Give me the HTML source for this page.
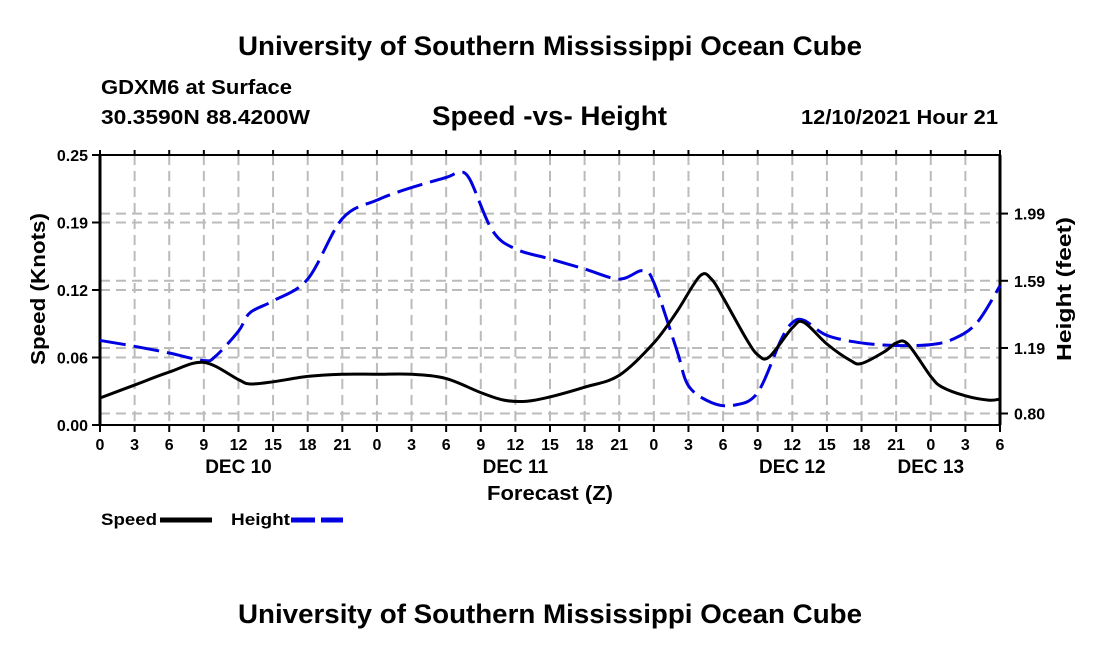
<!DOCTYPE html>
<html><head><meta charset="utf-8"><style>
body{margin:0;background:#fff;width:1100px;height:650px;overflow:hidden;font-family:"Liberation Sans",sans-serif}
svg text{font-family:"Liberation Sans",sans-serif;font-weight:bold}
</style></head><body>
<svg id="c" width="1100" height="650">
<text x="238" y="55" font-size="27" textLength="624" lengthAdjust="spacingAndGlyphs">University of Southern Mississippi Ocean Cube</text>
<text x="101" y="94" font-size="20" textLength="191" lengthAdjust="spacingAndGlyphs">GDXM6 at Surface</text>
<text x="101" y="124" font-size="20" textLength="209" lengthAdjust="spacingAndGlyphs">30.3590N  88.4200W</text>
<text x="432" y="125" font-size="27" textLength="235" lengthAdjust="spacingAndGlyphs">Speed -vs- Height</text>
<text x="801" y="124" font-size="20" textLength="197" lengthAdjust="spacingAndGlyphs">12/10/2021 Hour 21</text>
<text x="238" y="623" font-size="27" textLength="624" lengthAdjust="spacingAndGlyphs">University of Southern Mississippi Ocean Cube</text>
<g id="grid"></g><g id="axes"></g><g id="series"></g>
<text x="487" y="500" font-size="20" textLength="126" lengthAdjust="spacingAndGlyphs">Forecast (Z)</text>
<text transform="translate(45,289) rotate(-90)" font-size="20" text-anchor="middle" textLength="152" lengthAdjust="spacingAndGlyphs">Speed (Knots)</text>
<text transform="translate(1071,289) rotate(-90)" font-size="20" text-anchor="middle" textLength="144" lengthAdjust="spacingAndGlyphs">Height (feet)</text>
<g>
<text x="101" y="525" font-size="17" textLength="56" lengthAdjust="spacingAndGlyphs">Speed</text>
<line x1="160" y1="520" x2="212" y2="520" stroke="#000" stroke-width="5"/>
<text x="231" y="525" font-size="17" textLength="59" lengthAdjust="spacingAndGlyphs">Height</text>
<line x1="291" y1="520" x2="343" y2="520" stroke="#0000e0" stroke-width="5" stroke-dasharray="24,6"/>
</g>
</svg>
<script>
const speedHours=[0,3,6,9,12,13,15,18,21,24,27,30,33,35,37,39,42,45,48,50,52,53,54,56,57,58,60,61,63,65,66,68,69,70,72,73,75,77,78];
const speedVals=[.025,.037,.049,.058,.042,.038,.040,.045,.047,.047,.047,.043,.030,.023,.022,.026,.035,.046,.076,.105,.138,.135,.118,.080,.065,.063,.090,.095,.075,.060,.057,.068,.076,.075,.045,.035,.027,.023,.024];
const heightHours=[0,3,6,9,10,12,13,15,18,21,24,27,30,31,32,34,36,39,42,45,47,48,50,51,53,55,57,59,60,61,63,66,69,72,74,76,78];
const heightVals=[1.235,1.20,1.16,1.115,1.14,1.29,1.40,1.47,1.60,1.96,2.07,2.145,2.205,2.23,2.20,1.89,1.78,1.72,1.66,1.60,1.65,1.58,1.175,0.965,0.865,0.85,0.925,1.235,1.34,1.355,1.265,1.22,1.205,1.21,1.245,1.34,1.56];
const leftTicks=[0,0.0625,0.125,0.1875,0.25];
const leftTickLabels=["0.00","0.06","0.12","0.19","0.25"];
const rightTicks=[0.80,1.19,1.59,1.99];
const rightTickLabels=["0.80","1.19","1.59","1.99"];
const xTickLabels=["0","3","6","9","12","15","18","21","0","3","6","9","12","15","18","21","0","3","6","9","12","15","18","21","0","3","6"];
const dayLabels=["DEC 10","DEC 11","DEC 12","DEC 13"];
const dayHours=[12,36,60,72];
const X0=100,X1=1000,Y0=425,Y1=155,HMAX=78;
const xs=h=>X0+(h/HMAX)*(X1-X0);
const yl=v=>Y0-(v/0.25)*(Y0-Y1);
const yr=v=>413.5-(v-0.8)*168;
const NS="http://www.w3.org/2000/svg";
function mk(t,a,p){const e=document.createElementNS(NS,t);for(const k in a)e.setAttribute(k,a[k]);p.appendChild(e);return e;}
const grid=document.getElementById('grid'),axes=document.getElementById('axes'),ser=document.getElementById('series');
xTickLabels.forEach((l,i)=>{const x=xs(i*3);
 if(i>0&&i<xTickLabels.length-1){const g=mk('line',{x1:x,x2:x,y1:Y1,y2:Y0,stroke:'#bbb','stroke-width':2,'stroke-dasharray':'10,6'},grid);
 
 }
 const t=mk('line',{x1:x,x2:x,y1:Y0,y2:Y0+7,stroke:'#000','stroke-width':2},axes);
 
 
 const tt=mk('line',{x1:x,x2:x,y1:Y1,y2:Y1-5,stroke:'#000','stroke-width':2},axes);
 
 
 const tx=mk('text',{x:x,y:Y0+25,'font-size':16,'text-anchor':'middle'},axes);tx.textContent=l;
 
 });
dayLabels.forEach((l,i)=>{const tx=mk('text',{x:xs(dayHours[i]),y:Y0+48,'font-size':19,'text-anchor':'middle'},axes);tx.textContent=l;
 
 });
leftTicks.forEach((v,i)=>{const y=yl(v);
 if(i>0&&i<leftTicks.length-1){const g=mk('line',{x1:X0,x2:X1,y1:y,y2:y,stroke:'#bbb','stroke-width':2,'stroke-dasharray':'10,6'},grid);
 
 }
 const t=mk('line',{x1:X0-8,x2:X0,y1:y,y2:y,stroke:'#000','stroke-width':2},axes);
 
 
 const tx=mk('text',{x:X0-12,y:y+6,'font-size':16,'text-anchor':'end'},axes);tx.textContent=leftTickLabels[i];
 
 });
rightTicks.forEach((v,i)=>{const y=yr(v);
 const g=mk('line',{x1:X0,x2:X1,y1:y,y2:y,stroke:'#bbb','stroke-width':2,'stroke-dasharray':'10,6'},grid);
 
 
 const t=mk('line',{x1:X1,x2:X1+8,y1:y,y2:y,stroke:'#000','stroke-width':2},axes);
 
 
 const tx=mk('text',{x:X1+14,y:y+6,'font-size':16},axes);tx.textContent=rightTickLabels[i];
 
 });
const fr=mk('rect',{x:X0,y:Y1,width:X1-X0,height:Y0-Y1,fill:'none',stroke:'#000','stroke-width':2},axes);


const la=mk('line',{x1:X0,x2:X0,y1:Y1,y2:Y0,stroke:'#000','stroke-width':3},axes);


const ra=mk('line',{x1:X1,x2:X1,y1:Y1,y2:Y0,stroke:'#000','stroke-width':3},axes);


function path(pts){let d=`M${pts[0][0]},${pts[0][1]}`;
 for(let i=0;i<pts.length-1;i++){const p0=pts[Math.max(0,i-1)],p1=pts[i],p2=pts[i+1],p3=pts[Math.min(pts.length-1,i+2)];
 d+=` C${p1[0]+(p2[0]-p0[0])/6},${p1[1]+(p2[1]-p0[1])/6} ${p2[0]-(p3[0]-p1[0])/6},${p2[1]-(p3[1]-p1[1])/6} ${p2[0]},${p2[1]}`;}
 return d;}
const hp=mk('path',{d:path(heightHours.map((h,i)=>[xs(h),yr(heightVals[i])])),fill:'none',stroke:'#0000e0','stroke-width':3,'stroke-dasharray':'26,8'},ser);


const sp=mk('path',{d:path(speedHours.map((h,i)=>[xs(h),yl(speedVals[i])])),fill:'none',stroke:'#000','stroke-width':3},ser);


</script>
</body></html>
